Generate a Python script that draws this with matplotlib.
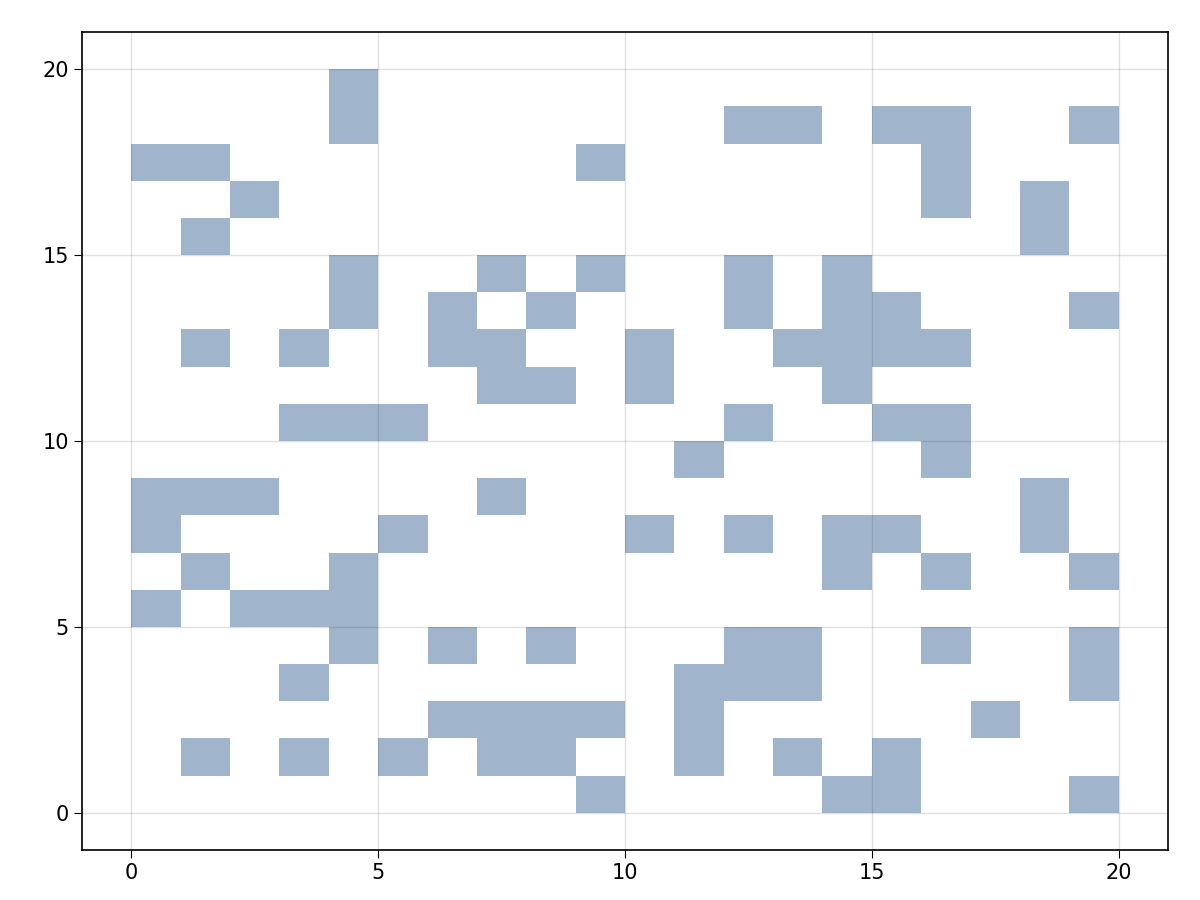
import numpy as np
import matplotlib
matplotlib.use("Agg")
from matplotlib import pyplot as plt
from matplotlib.colors import ListedColormap

# occupancy grid, top row first (y = 19 down to y = 0), columns x = 0..19
rows = [
    "00001000000000000000",
    "00001000000011011001",
    "11000000010000001000",
    "00100000000000001010",
    "01000000000000000010",
    "00001001010010100000",
    "00001010100010110001",
    "01010011001001111000",
    "00000001101000100000",
    "00011100000010011000",
    "00000000000100001000",
    "11100001000000000010",
    "10000100001010110010",
    "01001000000000101001",
    "10111000000000000000",
    "00001010100011001001",
    "00010000000111000001",
    "00000011110100000100",
    "01010101100101010000",
    "00000000010000110001",
]

grid = np.array([[int(c) for c in r] for r in rows[::-1]])

fig = plt.figure(figsize=(12, 9), dpi=100)
ax = fig.add_axes([82 / 1200, 1 - 850 / 900, (1168 - 82) / 1200, (850 - 32) / 900])

masked = np.ma.masked_where(grid == 0, grid)
ax.pcolormesh(np.arange(21), np.arange(21), masked,
              cmap=ListedColormap(["#a0b5cc"]), zorder=1)

ax.set_xlim(-1, 21)
ax.set_ylim(-1, 21)
ax.set_xticks([0, 5, 10, 15, 20])
ax.set_yticks([0, 5, 10, 15, 20])
ax.grid(True, color="#000000", alpha=0.12, linewidth=1)
ax.set_axisbelow(False)
ax.tick_params(labelsize=15, length=6)
for s in ax.spines.values():
    s.set_linewidth(1.2)

fig.savefig("out.png")
